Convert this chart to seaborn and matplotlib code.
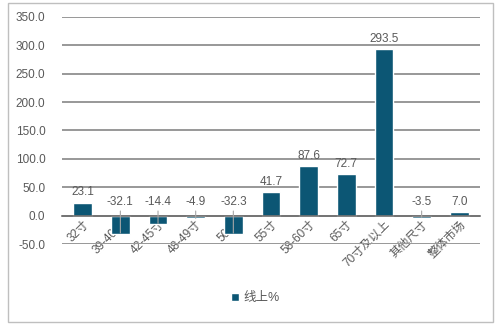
import matplotlib
matplotlib.use("Agg")
import matplotlib.pyplot as plt
from matplotlib.patches import Rectangle
import seaborn as sns
import pandas as pd

# Online TV sales growth by screen size (%)
categories = ["32寸", "39-40寸", "42-45寸", "48-49寸", "50寸", "55寸",
              "58-60寸", "65寸", "70寸及以上", "其他尺寸", "整体市场"]
growth = [23.1, -32.1, -14.4, -4.9, -32.3, 41.7, 87.6, 72.7, 293.5, -3.5, 7.0]
series_name = "线上%"
y_ticks = [-50, 0, 50, 100, 150, 200, 250, 300, 350]

bar_color = "#0C5674"
text_color = "#595959"
grid_color = "#9A9A9A"

sns.set_theme(style="white")
plt.rcParams["font.family"] = ["Liberation Sans", "Noto Sans CJK SC", "DejaVu Sans"]
plt.rcParams["axes.unicode_minus"] = False

df = pd.DataFrame({"size": categories, "growth": growth})

fig = plt.figure(figsize=(5, 3.25), dpi=100)
ax = fig.add_axes([0.124, 0.249, 0.836, 0.699])

sns.barplot(data=df, x="size", y="growth", color=bar_color, width=0.5,
            saturation=1, ax=ax, label=series_name, zorder=3)

ax.set_ylim(-50, 350)
ax.set_yticks(y_ticks)
ax.set_yticklabels([f"{t:.1f}" for t in y_ticks], color=text_color, fontsize=8.5)
ax.tick_params(axis="y", length=0, pad=12)
ax.set_xlim(-0.55, len(categories) - 0.45)
ax.set_xlabel("")
ax.set_ylabel("")

# horizontal gridlines behind the bars, drawn crisp (no antialiasing)
ax.hlines(y_ticks, -0.55, len(categories) - 0.45, colors=grid_color, lw=1.2,
          zorder=1, antialiased=False)

for side in ["top", "right", "left"]:
    ax.spines[side].set_visible(False)
ax.spines["bottom"].set_position(("data", 0))
ax.spines["bottom"].set_color("#6E6E6E")
ax.spines["bottom"].set_linewidth(1.2)
ax.spines["bottom"].set_zorder(4)

ax.tick_params(axis="x", length=0, pad=2)
ax.set_xticks(range(len(categories)))
ax.set_xticklabels(categories, rotation=45, ha="right", rotation_mode="anchor",
                   color=text_color, fontsize=8.5)

# value labels: above positive bars; negative ones sit above the zero line
# with a thin leader line down to the bar
for i, v in enumerate(growth):
    label = f"{v:.1f}"
    if v >= 0:
        ax.annotate(label, xy=(i, v), xytext=(0, 3), textcoords="offset points",
                    ha="center", va="bottom", fontsize=8.5, color=text_color,
                    zorder=5)
    else:
        ax.annotate(label, xy=(i, v * 0.95), xycoords="data",
                    xytext=(i, 14), textcoords="data",
                    ha="center", va="bottom", fontsize=8.5, color=text_color,
                    zorder=5,
                    arrowprops=dict(arrowstyle="-", color="#A6A6A6", lw=0.8,
                                    shrinkA=0, shrinkB=0))

leg = ax.legend(loc="center", bbox_to_anchor=(0.51, 0.082),
                bbox_transform=fig.transFigure, frameon=False, fontsize=9,
                handlelength=0.7, handleheight=0.7, handletextpad=0.3)
for t in leg.get_texts():
    t.set_color(text_color)

fig.patches.append(Rectangle((0.016, 0.009), 0.97, 0.982, transform=fig.transFigure,
                             fill=False, edgecolor="#BFBFBF", lw=1.0))

fig.savefig("out.png", dpi=100)
